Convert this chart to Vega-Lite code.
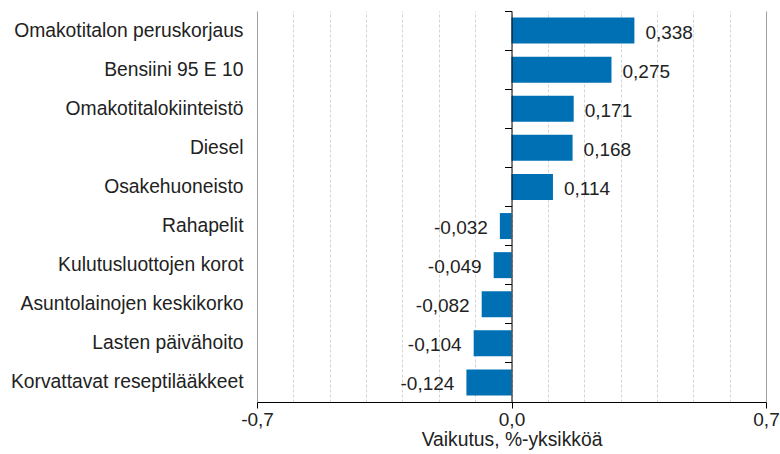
{
  "$schema": "https://vega.github.io/schema/vega-lite/v6.json",
  "width": 509,
  "height": 391,
  "autosize": {"type": "none"},
  "padding": {"left": 257, "top": 11, "right": 14, "bottom": 52},
  "config": {
    "locale": {"number": {"decimal": ",", "thousands": " ", "grouping": [3], "currency": ["", " €"], "minus": "-"}},
    "font": "Liberation Sans",
    "view": {"stroke": null},
    "axis": {"labelFont": "Liberation Sans", "titleFont": "Liberation Sans"}
  },
  "data": {
    "values": [
      {"nimike": "Omakotitalon peruskorjaus", "v": 0.338},
      {"nimike": "Bensiini 95 E 10", "v": 0.275},
      {"nimike": "Omakotitalokiinteistö", "v": 0.171},
      {"nimike": "Diesel", "v": 0.168},
      {"nimike": "Osakehuoneisto", "v": 0.114},
      {"nimike": "Rahapelit", "v": -0.032},
      {"nimike": "Kulutusluottojen korot", "v": -0.049},
      {"nimike": "Asuntolainojen keskikorko", "v": -0.082},
      {"nimike": "Lasten päivähoito", "v": -0.104},
      {"nimike": "Korvattavat reseptilääkkeet", "v": -0.124}
    ]
  },
  "encoding": {
    "y": {
      "field": "nimike",
      "type": "nominal",
      "sort": null,
      "scale": {"paddingInner": 0, "paddingOuter": 0},
      "axis": {
        "title": null,
        "orient": "left",
        "domain": false,
        "ticks": false,
        "grid": false,
        "labelFontSize": 19.3,
        "labelColor": "#222",
        "labelPadding": 14,
        "labelLimit": 300
      }
    },
    "x": {
      "field": "v",
      "type": "quantitative",
      "scale": {"domain": [-0.7, 0.7], "nice": false, "zero": false},
      "axis": {
        "title": "Vaikutus, %-yksikköä",
        "values": [-0.7, -0.6, -0.5, -0.4, -0.3, -0.2, -0.1, 0, 0.1, 0.2, 0.3, 0.4, 0.5, 0.6, 0.7],
        "format": ".1f",
        "labelExpr": "abs(datum.value) > 0.65 || abs(datum.value) < 0.01 ? datum.label : ''",
        "labelFlush": false,
        "labelOverlap": false,
        "labelFontSize": 19,
        "labelColor": "#222",
        "labelPadding": 2,
        "tickSize": 6,
        "tickColor": "#000",
        "tickOpacity": {"condition": {"test": "abs(datum.value) > 0.65 || abs(datum.value) < 0.01", "value": 1}, "value": 0},
        "domainColor": "#000",
        "grid": true,
        "gridColor": {"condition": {"test": "abs(datum.value) > 0.65", "value": "#a0a0a0"}, "value": "#d4d4d4"},
        "gridDash": {"condition": {"test": "abs(datum.value) > 0.65", "value": []}, "value": [3, 2]},
        "gridOpacity": 1,
        "titleFontSize": 19.3,
        "titleFontWeight": "normal",
        "titleColor": "#222",
        "titlePadding": 1
      }
    }
  },
  "layer": [
    {
      "mark": {"type": "bar", "color": "#0070b4", "height": {"band": 0.665}}
    },
    {
      "transform": [{"filter": "datum.v >= 0"}],
      "mark": {"type": "text", "align": "left", "baseline": "middle", "dx": 11, "dy": 2, "fontSize": 19, "color": "#222"},
      "encoding": {
        "text": {"field": "v", "type": "quantitative", "format": ".3f"},
        "y": {
          "field": "nimike",
          "type": "nominal",
          "sort": null,
          "axis": {
            "title": null,
            "orient": "left",
            "offset": -254.5,
            "labels": false,
            "domain": true,
            "domainColor": "#000",
            "ticks": true,
            "tickColor": "#000",
            "tickSize": 7,
            "bandPosition": 0,
            "grid": false,
            "zindex": 2
          }
        }
      }
    },
    {
      "transform": [{"filter": "datum.v < 0"}],
      "mark": {"type": "text", "align": "right", "baseline": "middle", "dx": -12, "dy": 2, "fontSize": 19, "color": "#222"},
      "encoding": {
        "text": {"field": "v", "type": "quantitative", "format": ".3f"},
        "y": {"field": "nimike", "type": "nominal", "sort": null, "axis": null}
      }
    }
  ],
  "resolve": {"axis": {"y": "independent"}}
}
